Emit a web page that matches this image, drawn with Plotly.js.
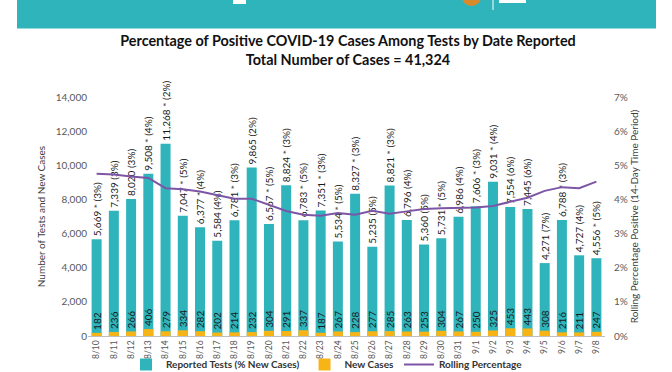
<!DOCTYPE html>
<html>
<head>
<meta charset="utf-8">
<script src="https://cdn.plot.ly/plotly-3.0.1.min.js"></script>
<style>
  html, body { margin: 0; padding: 0; background: #ffffff; }
  #chart { width: 672px; height: 372px; }
</style>
</head>
<body>
<div id="chart"></div>
<script>
// ---- data ----
const dates = ["8/10","8/11","8/12","8/13","8/14","8/15","8/16","8/17","8/18","8/19",
               "8/20","8/21","8/22","8/23","8/24","8/25","8/26","8/27","8/28","8/29",
               "8/30","8/31","9/1","9/2","9/3","9/4","9/5","9/6","9/7","9/8"];
const reportedTests = [5669, 7339, 8020, 9508, 11268, 7047, 6377, 5584, 6781, 9865,
                       6567, 8824, 6783, 7351, 5534, 8327, 5235, 8821, 6796, 5360,
                       5731, 6986, 7606, 9031, 7554, 7445, 4271, 6788, 4727, 4556];
const starred = [1,0,0,1,1,1,1,0,1,0, 1,1,1,1,1,1,0,1,0,0, 1,0,1,1,0,0,0,1,0,1];
const pctNewCases = [3,3,3,4,2,5,4,4,3,2, 5,3,5,3,5,3,5,3,4,5, 5,4,3,4,6,6,7,3,4,5];
const newCases = [182, 236, 266, 406, 279, 334, 282, 202, 214, 232,
                  304, 291, 337, 187, 267, 228, 277, 285, 263, 253,
                  304, 267, 250, 325, 453, 443, 308, 216, 211, 247];
const rollingPct = [4.75, 4.73, 4.67, 4.63, 4.33, 4.30, 4.23, 4.12, 4.02, 4.02,
                    3.84, 3.66, 3.55, 3.52, 3.60, 3.55, 3.67, 3.58, 3.65, 3.72,
                    3.74, 3.76, 3.76, 3.81, 3.94, 4.05, 4.25, 4.36, 4.33, 4.52];
const leftTicks = [0, 2000, 4000, 6000, 8000, 10000, 12000, 14000];
const rightTicks = [0, 1, 2, 3, 4, 5, 6, 7];

// ---- geometry ----
const W = 672, H = 372;
const M = {l: 88, r: 67, t: 97, b: 36, autoexpand: false};
const PW = W - M.l - M.r, PH = H - M.t - M.b;
const px = x => (x - M.l) / PW;
const py = y => (H - M.b - y) / PH;

const FONT = "Lato, 'Open Sans', sans-serif";
const TEAL = "#2fb4bb";
const GOLD = "#f7b416";
const PURPLE = "#7d55a6";
const GREY = "#595959";

const fmt = v => v.toLocaleString("en-US");
const testLabels = reportedTests.map((v, i) =>
  fmt(v) + (starred[i] ? " * " : " ") + "(" + pctNewCases[i] + "%)");

const traces = [
  {
    type: "bar", name: "Reported Tests (% New Cases)",
    x: dates, y: reportedTests,
    marker: {color: TEAL},
    text: testLabels, textposition: "outside", textangle: -90,
    textfont: {family: FONT, size: 10, color: "#1a1a1a"},
    constraintext: "none", cliponaxis: false,
    hoverinfo: "x+y"
  },
  {
    type: "bar", name: "New Cases",
    x: dates, y: newCases,
    marker: {color: GOLD},
    text: newCases.map(String), textposition: "outside", textangle: -90,
    textfont: {family: FONT, size: 10, color: "#1a1a1a"},
    constraintext: "none", cliponaxis: false,
    hoverinfo: "x+y"
  },
  {
    type: "scatter", mode: "lines", name: "Rolling Percentage",
    x: dates, y: rollingPct, yaxis: "y2",
    line: {color: PURPLE, width: 2},
    hoverinfo: "x+y"
  }
];

const layout = {
  width: W, height: H,
  margin: M,
  paper_bgcolor: "#ffffff", plot_bgcolor: "#ffffff",
  font: {family: FONT, color: GREY},
  barmode: "overlay",
  bargap: 0.42,
  showlegend: true,
  title: {
    text: "<b>Percentage of Positive COVID-19 Cases Among Tests by Date Reported<br>Total Number of Cases = 41,324</b>",
    font: {family: FONT, size: 14.4, color: "#111111"},
    x: 348 / W, xanchor: "center",
    y: 1 - 46 / H, yanchor: "top"
  },
  xaxis: {
    type: "category",
    showgrid: false, zeroline: false,
    showline: true, linecolor: "#bfbfbf", linewidth: 1,
    ticks: "", tickangle: -90,
    tickfont: {family: FONT, size: 8.5, color: GREY}
  },
  yaxis: {
    range: [0, 14000],
    tickvals: leftTicks,
    ticktext: leftTicks.map(fmt),
    showgrid: false, zeroline: false, showline: false,
    ticks: "",
    tickfont: {family: FONT, size: 10, color: GREY},
    title: {text: "Number of Tests and New Cases", font: {family: FONT, size: 10, color: "#404040"}, standoff: 8}
  },
  yaxis2: {
    overlaying: "y", side: "right",
    range: [0, 7],
    tickvals: rightTicks,
    ticktext: rightTicks.map(v => v + "%"),
    showgrid: false, zeroline: false, showline: false,
    ticks: "", ticklabelstandoff: 8,
    tickfont: {family: FONT, size: 10, color: GREY},
    title: {text: "Rolling Percentage Positive (14-Day Time Period)", font: {family: FONT, size: 10, color: "#404040"}, standoff: 4}
  },
  legend: {
    orientation: "h",
    x: px(126), xanchor: "left",
    y: py(350), yanchor: "top",
    bgcolor: "rgba(0,0,0,0)",
    font: {family: FONT, size: 10, color: "#333333", weight: "bold"},
    traceorder: "normal",
    itemwidth: 30
  },
  shapes: [
    {type: "rect", xref: "paper", yref: "paper", x0: px(17), x1: px(656), y0: py(0), y1: py(28.5),
     fillcolor: "#2fb4bb", line: {width: 0}, layer: "below"},
    {type: "circle", xref: "paper", yref: "paper", x0: px(462), x1: px(481), y0: py(-12), y1: py(6),
     fillcolor: "#d98a2b", line: {width: 0}},
    {type: "line", xref: "paper", yref: "paper", x0: px(493), x1: px(493), y0: py(0), y1: py(10),
     line: {color: "#ffffff", width: 1}},
    {type: "rect", xref: "paper", yref: "paper", x0: px(499), x1: px(526), y0: py(0), y1: py(3),
     fillcolor: "#ffffff", line: {width: 0}},
    {type: "rect", xref: "paper", yref: "paper", x0: px(233), x1: px(246), y0: py(0), y1: py(4),
     fillcolor: "#ffffff", line: {width: 0}}
  ]
};

Plotly.newPlot("chart", traces, layout, {displayModeBar: false, staticPlot: true});
</script>
</body>
</html>
